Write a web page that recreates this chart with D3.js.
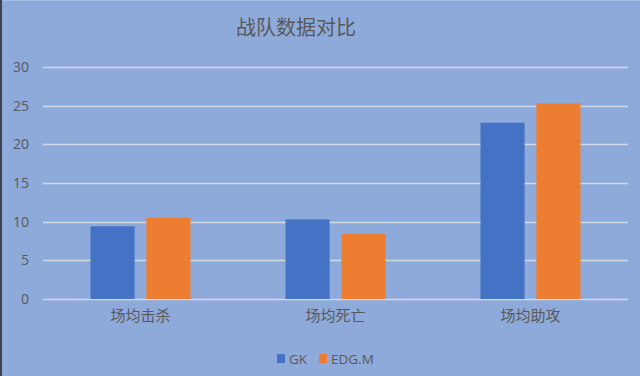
<!DOCTYPE html>
<html>
<head>
<meta charset="utf-8">
<script src="https://cdn.jsdelivr.net/npm/d3@7"></script>
<style>
  html, body { margin: 0; padding: 0; background: #8eaadb; }
  svg { display: block; font-family: "Noto Sans CJK SC", "Noto Sans", sans-serif; }
</style>
</head>
<body>
<div id="chart"></div>
<script>
// chart data
const categories = ["场均击杀", "场均死亡", "场均助攻"];
const teams = ["GK", "EDG.M"];
const gkValues = [9.4, 10.3, 22.8];
const edgValues = [10.5, 8.4, 25.3];
const yTicks = [0, 5, 10, 15, 20, 25, 30];
const colors = ["#4472c4", "#ed7d31"];

const width = 640, height = 376;
const margin = {top: 67, right: 12, bottom: 77, left: 43};

let svg = d3.select("#chart")
    .append("svg")
    .attr("width", width)
    .attr("height", height);

// background + edges
svg.append("rect").attr("width", width).attr("height", height).attr("fill", "#8eaadb");
svg.append("rect").attr("x", 0).attr("y", 0).attr("width", 2).attr("height", height).attr("fill", "#3c4250");
svg.append("rect").attr("x", 2).attr("y", 0).attr("width", width - 2).attr("height", 1).attr("fill", "#a7bde3");

// scales
var xScale = d3.scaleBand()
    .domain(categories)
    .range([margin.left, width - margin.right]);

var xInner = d3.scaleBand()
    .domain(teams)
    .range([0, 100])
    .paddingInner(0.21);

var yScale = d3.scaleLinear()
    .domain([0, 30])
    .range([height - margin.bottom, margin.top]);

// grid lines
svg.append("g")
    .selectAll("line")
    .data(yTicks)
    .join("line")
    .attr("x1", margin.left)
    .attr("x2", width - margin.right)
    .attr("y1", d => Math.round(yScale(d)) + 0.5)
    .attr("y2", d => Math.round(yScale(d)) + 0.5)
    .attr("stroke", "#d3d8e2")
    .attr("stroke-width", 1.3);

// y axis labels
let yAxis = svg.append("g")
    .attr("transform", "translate(29,0)")
    .call(d3.axisLeft(yScale).tickValues(yTicks).tickSize(0).tickPadding(0));
yAxis.select(".domain").remove();
yAxis.selectAll("text")
    .attr("fill", "#595959")
    .style("font-size", "14px")
    .style("font-family", "'Open Sans', 'Liberation Sans', sans-serif");

// bars
let rows = categories.map((c, i) => ({cat: c, vals: [gkValues[i], edgValues[i]]}));
let groups = svg.append("g")
    .selectAll("g")
    .data(rows)
    .join("g")
    .attr("transform", d => "translate(" + (xScale(d.cat) + xScale.bandwidth() / 2 - 50) + ",0)");

groups.selectAll("rect")
    .data(d => d.vals.map((v, j) => ({team: teams[j], v: v, j: j})))
    .join("rect")
    .attr("x", d => xInner(d.team))
    .attr("width", xInner.bandwidth())
    .attr("y", d => yScale(d.v))
    .attr("height", d => yScale(0) - yScale(d.v))
    .attr("fill", d => colors[d.j]);

// x axis labels
let xAxis = svg.append("g")
    .attr("transform", "translate(0," + (yScale(0) + 11) + ")")
    .call(d3.axisBottom(xScale).tickSize(0).tickPadding(0));
xAxis.select(".domain").remove();
xAxis.selectAll("text")
    .attr("fill", "#595959")
    .style("font-size", "15px")
    .style("font-family", "'Noto Sans CJK SC', sans-serif");

// title
svg.append("text")
    .attr("x", 296)
    .attr("y", 35)
    .attr("text-anchor", "middle")
    .attr("fill", "#595959")
    .style("font-size", "20px")
    .text("战队数据对比");

// legend
let legendX = [277, 319];
let legend = svg.append("g")
    .selectAll("g")
    .data(teams)
    .join("g")
    .attr("transform", (d, i) => "translate(" + legendX[i] + ",354)");
legend.append("rect")
    .attr("width", 8)
    .attr("height", 9)
    .attr("fill", (d, i) => colors[i]);
legend.append("text")
    .attr("x", 12)
    .attr("y", 9.5)
    .attr("fill", "#595959")
    .style("font-size", "13.5px")
    .style("font-family", "'Open Sans', 'Liberation Sans', sans-serif")
    .text(d => d);
</script>
</body>
</html>
